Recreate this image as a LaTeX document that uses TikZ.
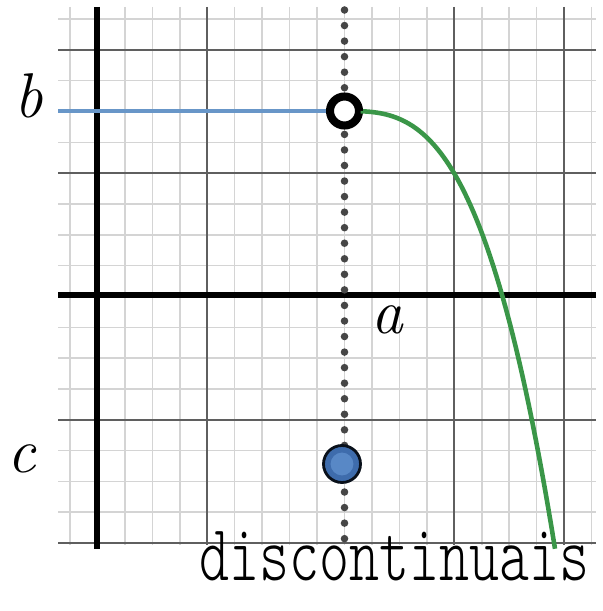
\documentclass[tikz,border=0pt]{standalone}
\usetikzlibrary{calc}
\definecolor{gridlight}{RGB}{212,212,212}
\definecolor{griddark}{RGB}{95,95,95}
\definecolor{dotgrey}{RGB}{70,70,70}
\definecolor{fblue}{RGB}{104,150,200}
\definecolor{fgreen}{RGB}{58,150,72}
\definecolor{ptblue}{RGB}{62,108,172}
\definecolor{ptlight}{RGB}{88,136,198}

\begin{document}
\begin{tikzpicture}[x=0.02cm,y=-0.02cm,
  minor/.style={gridlight,line width=0.9pt},
  major/.style={griddark,line width=0.8pt},
  axis/.style={black,line width=3.4pt},
  lbl/.style={anchor=base,inner sep=0pt,font=\itshape\fontsize{36}{36}\selectfont}]
\useasboundingbox (0,0) rectangle (602,611);
% grid
\foreach \k in {0,...,19} \draw[minor] ({70+27.45*\k},7)--({70+27.45*\k},545);
\foreach \k in {0,...,17} \draw[minor] (58,{19+30.83*\k})--(596,{19+30.83*\k});
\foreach \x in {207,454,564} \draw[major] (\x,7)--(\x,545);
\foreach \y in {49.8,173.2,419.8,543} \draw[major] (58,\y)--(596,\y);
% axes
\draw[axis](97,7)--(97,549);\draw[axis](58,295)--(596,295);
\draw[dotgrey,line width=4.3pt,line cap=round,dash pattern=on 0pt off 8.85pt](344.5,10)--(344.5,543);
% function
\node[circle,draw=black,fill=white,line width=4.6pt,minimum size=0.58cm,inner sep=0pt](h)at(344.5,111){};
\draw[fblue,line width=2.2pt](58,111)--(h.west);
\draw[fgreen,line width=2.6pt](h.east)--plot[domain=363:555,samples=60](\x,{111+46.6*((\x-344)/100)^3});
\node[circle,draw=black!85!ptblue,fill=ptblue,line width=1.6pt,minimum size=0.74cm,inner sep=0pt](p)at(342,464){};\fill[ptlight](p.center)circle(6.5pt);
% labels
\node[lbl](b)at(29,118){b};\node[lbl](c)at(22,472){c};\node[lbl](a)at(387,333){a};
\node[anchor=base west,inner sep=0pt,font=\ttfamily\fontseries{l}\fontsize{32.5}{33}\selectfont](txt)at(199,580){\scalebox{1}[1.4]{discontinuais}};
\end{tikzpicture}
\end{document}
